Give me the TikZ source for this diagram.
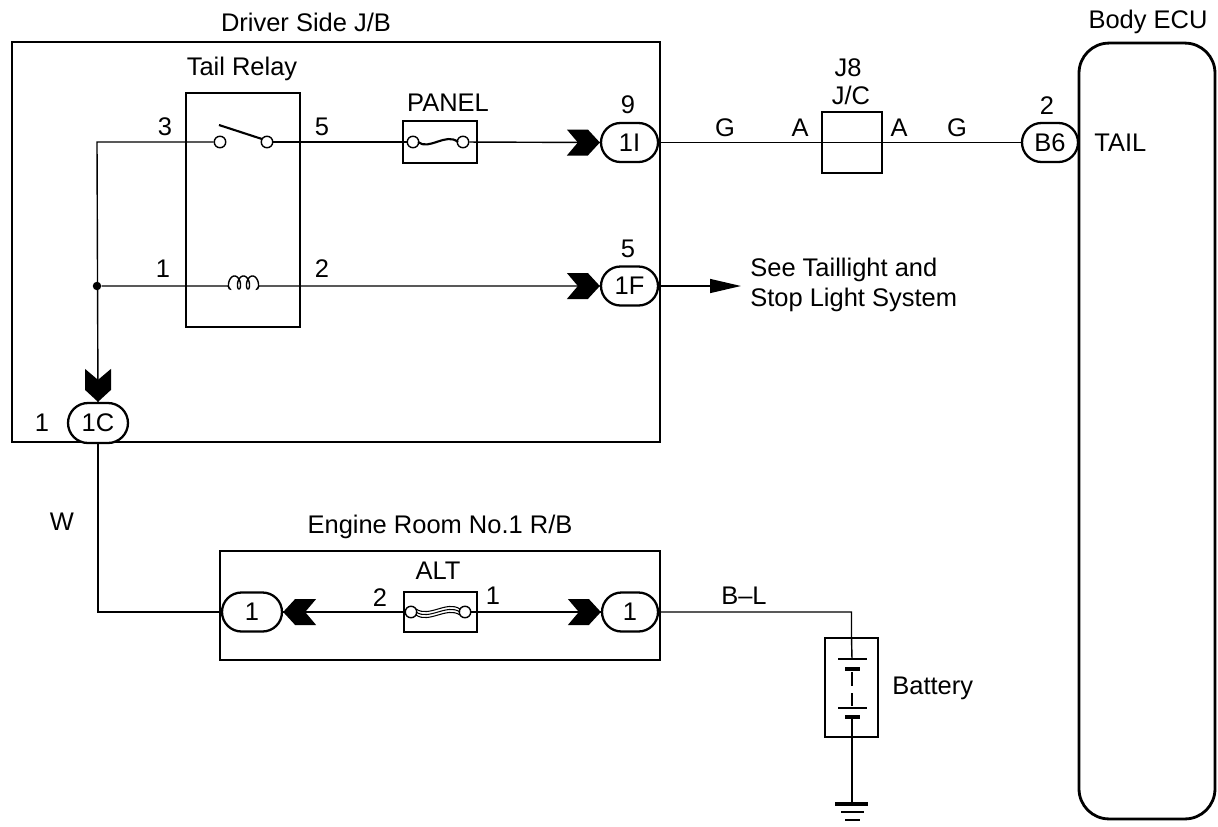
\documentclass[tikz,border=0pt]{standalone}
\usepackage{fontspec}
\setmainfont{Liberation Sans}
\usetikzlibrary{shapes.misc,arrows.meta}

\tikzset{
  box/.style={draw,line width=1.6pt,inner sep=0pt},
  wire/.style={line width=0.8pt},
  conn/.style={draw,rounded rectangle,line width=1.3pt,fill=white,inner sep=0pt,minimum height=0.78cm,minimum width=1.14cm},
  term/.style={draw,circle,fill=white,line width=0.8pt,minimum size=0.23cm,inner sep=0pt},
  dot/.style={fill,circle,minimum size=0.17cm,inner sep=0pt},
  chev/.pic={\fill (-33,-13) -- (-12,-13) -- (0,0) -- (-12,13) -- (-33,13) -- (-22,0) -- cycle;}
}

\begin{document}
\begin{tikzpicture}
  [x=0.02cm,y=-0.02cm,font=\fontsize{14.5}{17}\selectfont,every node/.style={inner sep=0pt}]
  \useasboundingbox (0,0) rectangle (1218,826);

  % boxes
  \node[box,minimum width=12.96cm,minimum height=8cm] (jb) at (336,242) {};
  \node[box,minimum width=2.28cm,minimum height=4.68cm] (relay) at (243,210) {};
  \node[box,minimum width=8.8cm,minimum height=2.18cm] (rb) at (440,605.5) {};
  \node[box,minimum width=1.48cm,minimum height=0.84cm] (panel) at (440,142) {};
  \node[box,minimum width=1.46cm,minimum height=0.8cm] (alt) at (440.5,612) {};
  \node[box,minimum width=1.2cm,minimum height=1.22cm] (jc) at (852,142.5) {};
  \node[box,minimum width=1.06cm,minimum height=1.98cm] (bat) at (851.5,687.5) {};
  \node[box,rounded corners=0.6cm,minimum width=2.72cm,minimum height=15.52cm] (ecu) at (1147,431) {};

  % titles
  \node (tJB) at (306,22) {Driver Side J/B};
  \node (tRelay) at (242,69) {Tail Relay};
  \node (tRB) at (440,527) {Engine Room No.1 R/B};
  \node (tECU) at (1148,22) {Body ECU};
  \node (tPanel) at (448,103) {PANEL};
  \node (tAlt) at (438,571) {ALT};
  \node (tJ8) at (848,68) {J8};
  \node (tJC) at (851,95) {J/C};
  \node[anchor=west] (tBat) at (892,688) {Battery};
  \node[anchor=west] (tTail) at (1094,143) {TAIL};
  \node[anchor=west,align=left] (tSee) at (750,285) {See Taillight and\\Stop Light System};

  % connectors
  \node[conn] (c1I) at (629.5,142.5) {1I};
  \node[conn] (c1F) at (629.5,286) {1F};
  \node[conn,minimum width=1.2cm,minimum height=0.8cm] (c1C) at (98,423) {1C};
  \node[conn,minimum width=1.2cm] (e1L) at (252,612) {1};
  \node[conn,minimum width=1.12cm] (e1R) at (630,612) {1};
  \node[conn,minimum width=1.12cm] (cB6) at (1050,142.5) {B6};

  % pin numbers and wire colours
  \node (p3) at (165,127) {3};
  \node (p5) at (322,127) {5};
  \node (p1) at (163,269) {1};
  \node (p2) at (322,269) {2};
  \node (p9) at (628,105) {9};
  \node (p5b) at (628,249) {5};
  \node (p1c) at (42,423) {1};
  \node (pA2) at (380,598) {2};
  \node (pA1) at (493,596) {1};
  \node (pB6) at (1047,106) {2};
  \node (wG1) at (725,128) {G};
  \node (wA1) at (800,128) {A};
  \node (wA2) at (899,128) {A};
  \node (wG2) at (957,128) {G};
  \node (wW) at (62,522) {W};
  \node (wBL) at (744,596) {B--L};

  % terminals
  \node[term] (swL) at (220,142) {};
  \node[term] (swR) at (267,142) {};
  \node[term] (pfL) at (413,142) {};
  \node[term] (pfR) at (463,142) {};
  \node[term] (afL) at (411,612) {};
  \node[term] (afR) at (465,612) {};
  \node[dot] (jn) at (97,286) {};
  \coordinate (tj) at (97,142);
  \coordinate (see) at (741,286);
  \coordinate (bp1) at (852,659);
  \coordinate (bp2) at (852,717);
  \coordinate (gnd) at (852,804);

  % wires
  \draw[wire] (swL) -- (tj) -- (c1C.north);
  \draw[wire] (swR) -- (pfL);
  \draw[wire] (pfR) -- (c1I.west);
  \draw[wire] (c1I.east) -- (cB6.west);
  \draw[wire] (jn) -- (228,286) -- plot[domain=0:1080,samples=160,variable=\t]
    ({230+0.025*\t-3.5*sin(\t)},{289-6.5*(1-cos(\t))}) -- (259,286) -- (c1F.west);
  \draw[wire,-{Triangle[length=0.62cm,width=0.28cm]}] (c1F.east) -- (see);
  \draw[wire] (c1C.south) |- (e1L.west);
  \draw[wire] (afL) -- (e1L.east);
  \draw[wire] (afR) -- (e1R.west);
  \draw[wire] (e1R.east) -| (bat.north) -- (bp1);
  \draw[wire] (bp2) -- (gnd);

  % switch blade and fuse links
  \draw[wire,line width=1.2pt] (219,125) -- (262,139);
  \draw[wire,line width=1.2pt] (418,142) .. controls (429,151) and (446,132) .. (458,142);
  \foreach \o in {-3,0,3}
    \draw[line width=0.6pt] (416,612+\o) .. controls (429,621+\o) and (447,603+\o) .. (460,612+\o);

  % battery cells and ground
  \draw[line width=0.6pt] (838,659) -- (867,659) (838,708) -- (867,708);
  \draw[line width=2.2pt] (845,669) -- (860,669) (845,717) -- (860,717);
  \draw[wire,dash pattern=on 8pt off 4pt] (852,672) -- (852,706);
  \draw[line width=2.2pt] (835,804) -- (868,804);
  \draw[line width=1pt] (841,812) -- (864,812) (845,820) -- (860,820);

  % chevrons
  \pic at (c1I.west) {chev};
  \pic at (c1F.west) {chev};
  \pic[rotate=-90] at (c1C.north) {chev};
  \pic[rotate=180] at (e1L.east) {chev};
  \pic at (e1R.west) {chev};
\end{tikzpicture}
\end{document}
